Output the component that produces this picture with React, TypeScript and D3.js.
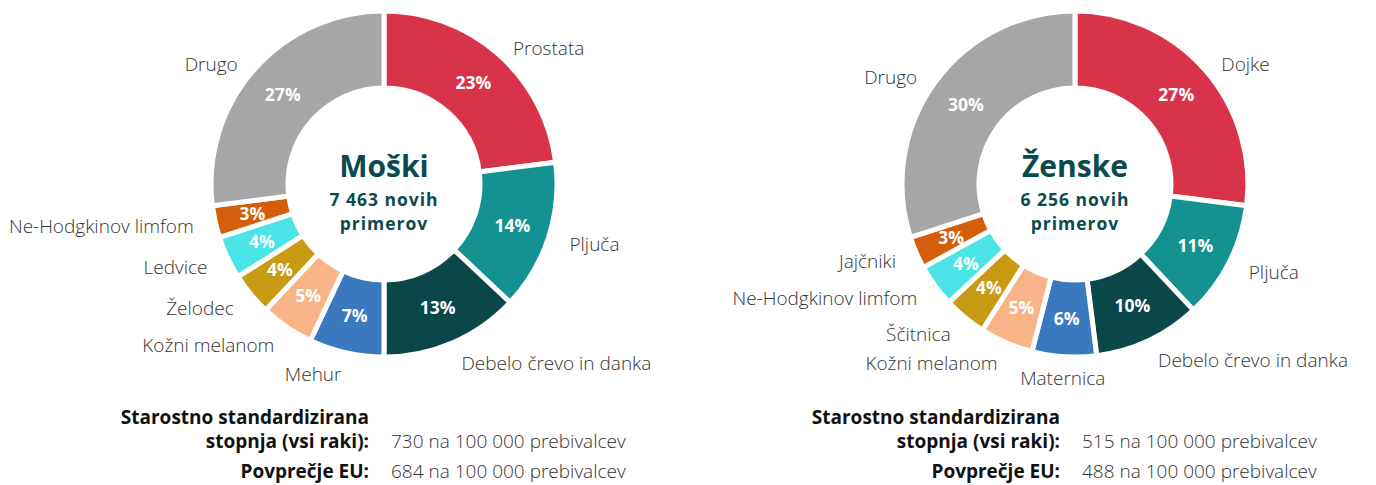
import React from 'react';
import * as d3 from 'd3';

// barve rezin (enak vrstni red za oba spola)
const sliceColors = ['#d93349', '#149291', '#0a4749', '#3a78bf', '#f8b486', '#c99b15', '#4ae4e7', '#d45e0b', '#a6a6a6'];

const maleCategories = ['Prostata', 'Pljuča', 'Debelo črevo in danka', 'Mehur', 'Kožni melanom', 'Želodec', 'Ledvice', 'Ne-Hodgkinov limfom', 'Drugo'];
const maleValues = [23, 14, 13, 7, 5, 4, 4, 3, 27];

const femaleCategories = ['Dojke', 'Pljuča', 'Debelo črevo in danka', 'Maternica', 'Kožni melanom', 'Ščitnica', 'Ne-Hodgkinov limfom', 'Jajčniki', 'Drugo'];
const femaleValues = [27, 11, 10, 6, 5, 4, 4, 3, 30];

const panelTitles = ['Moški', 'Ženske'];
const panelCounts = ['7 463 novih', '6 256 novih'];
const panelRates = ['730', '515'];
const panelEU = ['684', '488'];

const width = 1376;
const height = 485;
const outerR = 173;
const innerR = 96;
const pctR = 135;
const labelR = 195;
const labelSquashY = 0.93; // zgornje oznake malo bližje krogu

const FONT = '"Open Sans", sans-serif';
const DARK = '#0b4a4c';
const TEXT = '#333333';

type DonutProps = {
  cx: number;
  cy: number;
  title: string;
  count: string;
  categories: string[];
  values: number[];
  rate: string;
  eu: string;
};

const Donut = ({ cx, cy, title, count, categories, values, rate, eu }: DonutProps) => {
  const pie = d3.pie<number>().value(d => d).sort(null);
  const arcs = pie(values);
  const arc = d3.arc<d3.PieArcDatum<number>>().innerRadius(innerR).outerRadius(outerR);
  const pctArc = d3.arc<d3.PieArcDatum<number>>().innerRadius(pctR).outerRadius(pctR);
  const lblArc = d3.arc<d3.PieArcDatum<number>>().innerRadius(labelR).outerRadius(labelR);

  return (
    <g transform={`translate(${cx},${cy})`}>
      {arcs.map((a, i) => (
        <path key={i} d={arc(a) || ''} fill={sliceColors[i]} stroke="#fff" strokeWidth={5} />
      ))}
      {arcs.map((a, i) => {
        const [x, y] = pctArc.centroid(a);
        return (
          <text key={'p' + i} x={x} y={y} dy="0.36em" textAnchor="middle" fill="#fff"
            fontFamily={FONT} fontWeight={700} fontSize={17.5}>
            {a.data}%
          </text>
        );
      })}
      {arcs.map((a, i) => {
        const [x, y] = lblArc.centroid(a);
        const mid = (a.startAngle + a.endAngle) / 2;
        const s = Math.sin(mid);
        const anchor = Math.abs(s) < 0.1 ? 'middle' : s > 0 ? 'start' : 'end';
        const ly = y < 0 ? y * labelSquashY : y;
        return (
          <text key={'l' + i} x={x} y={ly} dy="0.35em" textAnchor={anchor} fill={TEXT}
            fontFamily={FONT} fontWeight={300} fontSize={19}>
            {categories[i]}
          </text>
        );
      })}
      <text x={0} y={-7} textAnchor="middle" fill={DARK} fontFamily={FONT} fontWeight={700} fontSize={30}>{title}</text>
      <text x={0} y={22} textAnchor="middle" fill={DARK} fontFamily={FONT} fontWeight={700} fontSize={17.5} letterSpacing={1}>{count}</text>
      <text x={0} y={46} textAnchor="middle" fill={DARK} fontFamily={FONT} fontWeight={700} fontSize={17.5} letterSpacing={1}>primerov</text>

      <g fontFamily={FONT} fontSize={19}>
        <text x={-15} y={240} textAnchor="end" fontWeight={700} fill="#111">Starostno standardizirana</text>
        <text x={-15} y={264} textAnchor="end" fontWeight={700} fill="#111">stopnja (vsi raki):</text>
        <text x={7} y={264} fill={TEXT} fontWeight={300}>{rate} na 100 000 prebivalcev</text>
        <text x={-15} y={294} textAnchor="end" fontWeight={700} fill="#111">Povprečje EU:</text>
        <text x={7} y={294} fill={TEXT} fontWeight={300}>{eu} na 100 000 prebivalcev</text>
      </g>
    </g>
  );
};

export default function App() {
  return (
    <div style={{ position: 'absolute', left: 0, top: 0 }}>
      <svg width={width} height={height} style={{ display: 'block', background: '#fff' }}>
        <Donut cx={384} cy={184} title={panelTitles[0]} count={panelCounts[0]}
          categories={maleCategories} values={maleValues} rate={panelRates[0]} eu={panelEU[0]} />
        <Donut cx={1075} cy={184} title={panelTitles[1]} count={panelCounts[1]}
          categories={femaleCategories} values={femaleValues} rate={panelRates[1]} eu={panelEU[1]} />
      </svg>
    </div>
  );
}
